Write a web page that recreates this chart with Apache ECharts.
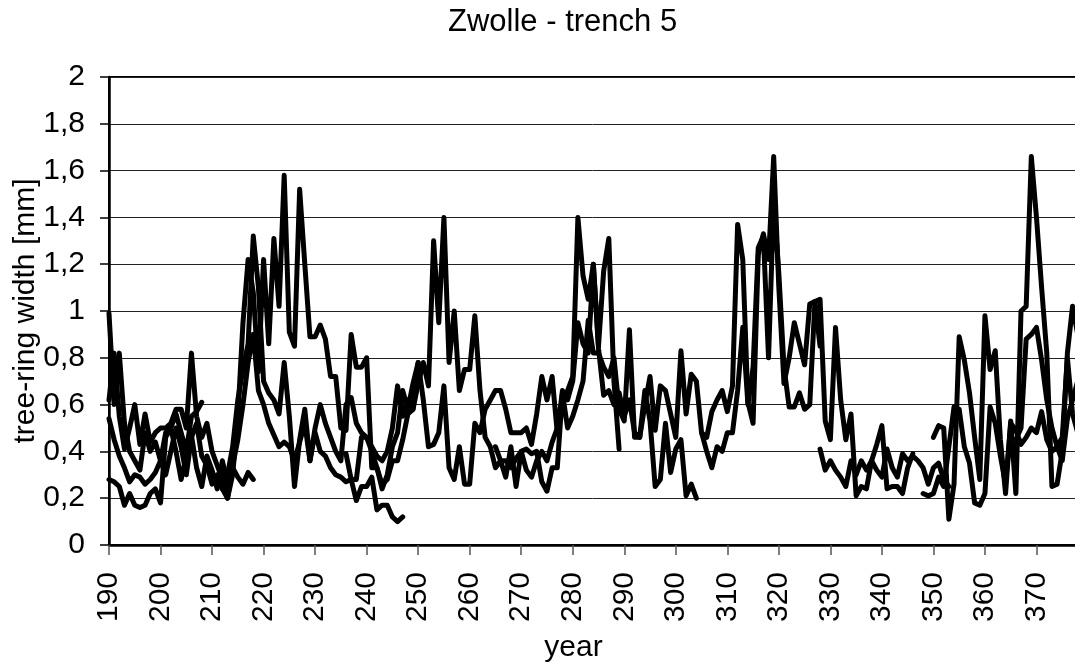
<!DOCTYPE html>
<html>
<head>
<meta charset="utf-8">
<title>Zwolle - trench 5</title>
<script src="https://cdn.jsdelivr.net/npm/echarts@6/dist/echarts.min.js"></script>
<style>
  html, body { margin: 0; padding: 0; background: #fff; }
  #chart { width: 1075px; height: 668px; }
</style>
</head>
<body>
<div id="chart"></div>
<script>
// tree-ring widths [mm] per sample, each series starts at its own year
const s1Start = 190
const s1 = [0.28, 0.27, 0.25, 0.17, 0.22, 0.17, 0.16, 0.17, 0.22, 0.24,
  0.18, 0.46, 0.50, 0.40, 0.28, 0.38, 0.47, 0.33, 0.25, 0.38,
  0.32, 0.24, 0.36, 0.26, 0.34, 0.45, 0.60, 0.78, 0.90, 0.66,
  0.60, 0.52, 0.47, 0.42, 0.44, 0.42, 0.36, 0.44, 0.52, 0.36,
  0.48, 0.40, 0.38, 0.33, 0.30, 0.29, 0.27, 0.28, 0.19, 0.25,
  0.25, 0.29, 0.15, 0.17, 0.17, 0.12, 0.10, 0.12]

const s2Start = 190
const s2 = [0.99, 0.60, 0.82, 0.52, 0.40, 0.36, 0.32, 0.48, 0.40, 0.44,
  0.36, 0.30, 0.40, 0.50, 0.42, 0.30, 0.46, 0.52, 0.38, 0.34,
  0.26, 0.30, 0.24, 0.20, 0.33, 0.29, 0.26, 0.31, 0.28]

const s3Start = 190
const s3 = [0.54, 0.45, 0.38, 0.33, 0.27, 0.30, 0.29, 0.26, 0.28, 0.31,
  0.36, 0.48, 0.50, 0.56, 0.48, 0.40, 0.55, 0.57, 0.61]

const s4Start = 190
const s4 = [0.62, 0.82, 0.55, 0.41, 0.50, 0.60, 0.43, 0.56, 0.44, 0.48,
  0.50, 0.50, 0.52, 0.58, 0.58, 0.50, 0.82, 0.55, 0.46, 0.52,
  0.40, 0.34, 0.28, 0.20, 0.30, 0.55, 0.95, 1.22, 1.08, 0.74,
  1.22, 0.86, 1.31, 1.02, 1.58, 0.91, 0.85, 1.52, 1.20, 0.89,
  0.89, 0.94, 0.88, 0.72, 0.72, 0.50, 0.49, 0.90, 0.76, 0.76,
  0.80, 0.33, 0.33, 0.24, 0.30, 0.42, 0.48, 0.66, 0.58, 0.69,
  0.78]

const s5Start = 212
const s5 = [0.24, 0.30, 0.42, 0.62, 0.75, 0.86, 1.32, 1.10, 0.70, 0.65,
  0.62, 0.56, 0.78, 0.55, 0.25, 0.45, 0.58, 0.36, 0.50, 0.60,
  0.52, 0.46, 0.40, 0.36, 0.60, 0.63, 0.52, 0.48, 0.46, 0.42,
  0.38, 0.36, 0.40, 0.50, 0.68, 0.55, 0.62, 0.58, 0.78, 0.62,
  0.42, 0.43, 0.48, 0.68, 0.33, 0.28, 0.42, 0.26, 0.26, 0.52,
  0.48, 0.58, 0.62, 0.66, 0.66, 0.58, 0.48, 0.48, 0.48, 0.50,
  0.43, 0.56, 0.72, 0.62, 0.72, 0.48, 0.66, 0.62, 0.70, 0.95,
  0.86, 0.82, 1.20, 0.84, 0.64, 0.66, 0.60, 0.65, 0.55, 0.62,
  0.48, 0.46, 0.66, 0.53, 0.25, 0.28, 0.52, 0.31, 0.41, 0.45,
  0.21, 0.26, 0.20]

const s6Start = 236
const s6 = [0.39, 0.28, 0.28, 0.46, 0.46, 0.40, 0.33, 0.26, 0.28, 0.36,
  0.36, 0.45, 0.56, 0.58, 0.69, 0.78, 0.68, 1.30, 0.95, 1.40,
  0.78, 1.00, 0.66, 0.75, 0.75, 0.98, 0.66, 0.46, 0.42, 0.33,
  0.36, 0.29, 0.42, 0.25, 0.40, 0.32, 0.29, 0.36, 0.40, 0.36,
  0.44, 0.50, 0.60, 0.66, 0.72, 1.40, 1.15, 1.05, 1.20, 0.85,
  1.17, 1.31, 0.70, 0.41]

const s7Start = 265
const s7 = [0.42, 0.36, 0.36, 0.33, 0.37, 0.40, 0.41, 0.39, 0.40, 0.27,
  0.23, 0.33, 0.33, 0.65, 0.50, 0.55, 0.62, 0.70, 0.96, 0.82,
  0.82, 0.76, 0.72, 0.80, 0.58, 0.53, 0.92, 0.46, 0.46, 0.60,
  0.72, 0.49, 0.68, 0.66, 0.56, 0.46, 0.83, 0.56, 0.73, 0.70,
  0.48, 0.46, 0.57, 0.62, 0.66, 0.57, 0.68, 1.37, 1.22, 0.61,
  0.52, 1.24, 1.33, 1.22, 1.66, 1.10, 0.69, 0.80, 0.95, 0.86,
  0.77, 1.03, 1.04, 0.85]

const s8Start = 305
const s8 = [0.48, 0.40, 0.33, 0.42, 0.40, 0.48, 0.48, 0.66, 0.93, 0.60,
  0.76, 1.27, 1.32, 0.80, 1.47, 1.16, 0.76, 0.59, 0.59, 0.65,
  0.58, 0.60, 1.04, 1.05, 0.53, 0.45, 0.93, 0.62, 0.45, 0.56,
  0.21, 0.25, 0.24, 0.36, 0.43, 0.51, 0.24, 0.25, 0.25, 0.22,
  0.33, 0.39]

const s9Start = 328
const s9 = [0.41, 0.32, 0.36, 0.32, 0.29, 0.25, 0.36, 0.30, 0.36, 0.32,
  0.36, 0.32, 0.29, 0.41, 0.33, 0.29, 0.39, 0.36, 0.38, 0.36,
  0.33, 0.26, 0.33, 0.35, 0.28, 0.25]

const s10Start = 348
const s10 = [0.22, 0.21, 0.22, 0.29, 0.25, 0.42, 0.59, 0.58, 0.42, 0.35,
  0.18, 0.17, 0.22, 0.59, 0.52, 0.38, 0.26, 0.52, 0.49, 0.43,
  0.46, 0.50, 0.48, 0.57, 0.45, 0.40, 0.42, 0.36, 0.54, 0.62,
  0.70]

const s11Start = 350
const s11 = [0.46, 0.51, 0.50, 0.11, 0.26, 0.89, 0.79, 0.65, 0.46, 0.28,
  0.98, 0.75, 0.83, 0.45, 0.22, 0.53, 0.22, 1.00, 1.02, 1.66,
  1.40, 1.10, 0.82, 0.25, 0.26, 0.40, 0.82, 1.02, 0.90]

const s12Start = 366
const s12 = [0.45, 0.50, 0.88, 0.90, 0.93, 0.79, 0.62, 0.50, 0.42, 0.46,
  0.80, 0.56, 0.48]

const samples = [
  [s1Start, s1], [s2Start, s2], [s3Start, s3], [s4Start, s4],
  [s5Start, s5], [s6Start, s6], [s7Start, s7], [s8Start, s8],
  [s9Start, s9], [s10Start, s10], [s11Start, s11], [s12Start, s12]
]

const font = 'Liberation Sans, Arial, sans-serif'

function toPoints(start, values) {
  return values.map((v, i) => [start + i, v])
}

function commaLabel(v) {
  return String(Number(v.toFixed(1))).replace('.', ',')
}

const chart = echarts.init(document.getElementById('chart'), null, { renderer: 'canvas' })

chart.setOption({
  animation: false,
  backgroundColor: '#fff',
  title: {
    text: 'Zwolle - trench 5',
    left: 443,
    top: 2,
    textStyle: { fontFamily: font, fontSize: 31, fontWeight: 'normal', color: '#000' }
  },
  grid: {
    left: 109, right: -13, top: 77, bottom: 123,
    show: true, borderColor: '#000', borderWidth: 2,
    outerBoundsMode: 'none'
  },
  xAxis: {
    type: 'value',
    min: 190,
    max: 380,
    interval: 10,
    name: 'year',
    nameLocation: 'middle',
    nameGap: 88,
    nameMoveOverlap: false,
    nameTextStyle: { fontFamily: font, fontSize: 30, color: '#000', padding: [0, 50, 0, 0] },
    axisLine: { show: true, onZero: false, lineStyle: { color: '#000', width: 2.5 } },
    axisTick: { show: true, length: 10, lineStyle: { color: '#555', width: 1.5 } },
    axisLabel: { rotate: 90, margin: 27, fontFamily: font, fontSize: 30, color: '#000' },
    splitLine: { show: false }
  },
  yAxis: {
    type: 'value',
    min: 0,
    max: 2,
    interval: 0.2,
    name: 'tree-ring width [mm]',
    nameLocation: 'middle',
    nameRotate: 90,
    nameGap: 68,
    nameMoveOverlap: false,
    nameTextStyle: { fontFamily: font, fontSize: 30, color: '#000' },
    axisLine: { show: true, lineStyle: { color: '#000', width: 2.5 } },
    axisTick: { show: true, length: 9, lineStyle: { color: '#000', width: 1.5 } },
    axisLabel: { margin: 24, fontFamily: font, fontSize: 30, color: '#000', formatter: commaLabel },
    splitLine: { show: true, lineStyle: { color: '#222', width: 1 } }
  },
  series: samples.map(([start, values]) => ({
    type: 'line',
    data: toPoints(start, values),
    symbol: 'none',
    silent: true,
    lineStyle: { color: '#000', width: 5, join: 'round', cap: 'round' }
  }))
})
</script>
</body>
</html>
